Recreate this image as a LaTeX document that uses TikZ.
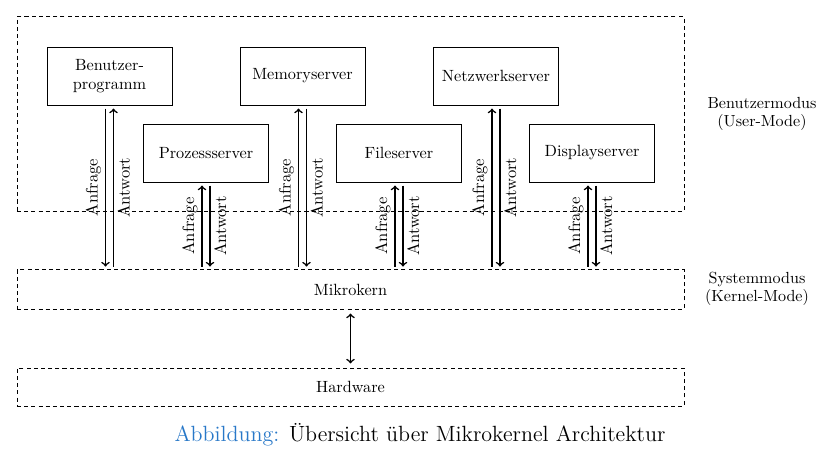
\documentclass[tikz,border=0pt]{standalone}
\usetikzlibrary{calc}
\definecolor{capblue}{RGB}{40,120,200}
\begin{document}
\begin{tikzpicture}[x=0.64pt,y=-0.64pt,
  srv/.style={draw,line width=0.6pt,minimum width=80pt,minimum height=37.1pt,align=center,inner sep=1pt,font=\fontsize{10.4}{11.8}\selectfont},
  zone/.style={draw,line width=0.6pt,dash pattern=on 2.6pt off 2pt,minimum width=426.9pt,font=\fontsize{10.4}{12}\selectfont},
  arr/.style={->,line width=1pt},
  lbl/.style={midway,rotate=90,inner sep=2.3pt,font=\fontsize{10.6}{12}\selectfont},
  side/.style={align=center,font=\fontsize{10.3}{11.6}\selectfont}]
\useasboundingbox (0,0) rectangle (825,450);
% zones
\node[zone,minimum height=124.2pt] (um) at (350.5,114) {};
\node[zone,minimum height=25pt] (mk) at (350.5,289.5) {Mikrokern};
\node[zone,minimum height=24.3pt] (hw) at (350.5,387) {Hardware};
% servers
\node[srv] (bp) at (109.5,76) {Benutzer-\\programm};
\node[srv] (ms) at (302.5,76) {Memoryserver};
\node[srv] (ns) at (496,76) {Netzwerkserver};
\node[srv] (ps) at (206,153) {Prozessserver};
\node[srv] (fs) at (399,153) {Fileserver};
\node[srv] (ds) at (592,153) {Displayserver};
% Benutzerprogramm: Anfrage down, Antwort up
\draw[arr] ([xshift=-2.56pt,yshift=-2pt]bp.south) -- ([xshift=-2.56pt,yshift=1.9pt]bp.south |- mk.north) node[lbl,anchor=south]{Anfrage};
\draw[arr] ([xshift=2.56pt,yshift=1.9pt]bp.south |- mk.north) -- ([xshift=2.56pt,yshift=-2pt]bp.south) node[lbl,anchor=north]{Antwort};
% other servers: Anfrage up (left), Antwort down (right)
\foreach \s in {ms,ns,ps,fs,ds}{
  \draw[arr] ([xshift=-2.56pt,yshift=1.9pt]\s.south |- mk.north) -- ([xshift=-2.56pt,yshift=-2pt]\s.south) node[lbl,anchor=south]{Anfrage};
  \draw[arr] ([xshift=2.56pt,yshift=-2pt]\s.south) -- ([xshift=2.56pt,yshift=1.9pt]\s.south |- mk.north) node[lbl,anchor=north]{Antwort};
}
% kernel <-> hardware
\draw[<->,line width=1pt] ([yshift=-2.6pt]mk.south) -- ([yshift=2.6pt]hw.north);
% side labels
\node[side] (ulab) at (762,114) {Benutzermodus\\(User-Mode)};
\node[side] (klab) at (757,289) {Systemmodus\\(Kernel-Mode)};
% caption
\node[font=\fontsize{14.1}{16}\selectfont] (cap) at (420,435) {{\color{capblue}Abbildung:} Übersicht über Mikrokernel Architektur};
\end{tikzpicture}
\end{document}
